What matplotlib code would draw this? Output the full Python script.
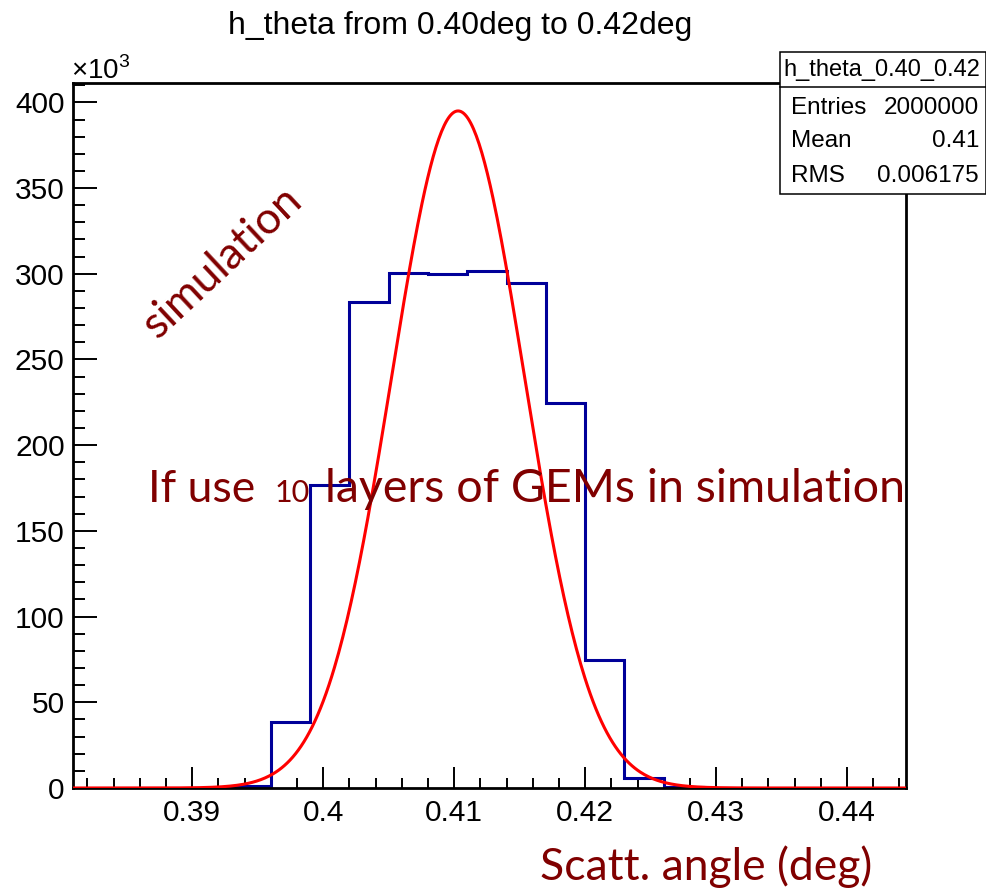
import numpy as np
import matplotlib
matplotlib.use('Agg')
import matplotlib.pyplot as plt
from matplotlib.patches import Rectangle
from matplotlib.lines import Line2D
from matplotlib.ticker import MultipleLocator

# histogram of scattering angle, counts in thousands, bin width 0.003 deg
bin_edges = [0.381, 0.384, 0.387, 0.390, 0.393, 0.396, 0.399, 0.402, 0.405,
             0.408, 0.411, 0.414, 0.417, 0.420, 0.423, 0.426, 0.429, 0.432,
             0.435, 0.438, 0.441, 0.444, 0.447]
counts_k = [0.0, 0.0, 0.0, 0.0, 1.3, 38.3, 176.8, 283.3, 300.6, 299.9, 301.4,
            294.8, 224.8, 74.7, 5.6, 0.3, 0.0, 0.0, 0.0, 0.0, 0.0, 0.0]

# gaussian fit
fit_const = 395.0
fit_mean = 0.4103
fit_sigma = 0.00508

stats_name = 'h_theta_0.40_0.42'
stats_rows = [('Entries', '2000000'), ('Mean', '0.41'), ('RMS', '0.006175')]

W, H = 987, 888
dark_red = '#800000'
deco = ['Lato', 'DejaVu Sans']

plt.rcParams['font.family'] = ['Liberation Sans', 'DejaVu Sans']
plt.rcParams['mathtext.fontset'] = 'custom'
plt.rcParams['mathtext.rm'] = 'Liberation Sans'

fig = plt.figure(figsize=(W / 100, H / 100), dpi=100)
fig.patch.set_facecolor('white')


def fx(x):
    return x / W


def fy(y):
    return 1 - y / H


ax = fig.add_axes([fx(73), fy(788), fx(906) - fx(73), fy(83) - fy(788)])

ax.stairs(counts_k, bin_edges, color='#000099', lw=2.2, baseline=0, zorder=2)

xs = np.linspace(0.3809, 0.4445, 600)
ax.plot(xs, fit_const * np.exp(-0.5 * ((xs - fit_mean) / fit_sigma) ** 2),
        color='#ff0000', lw=2.2, zorder=3)

ax.set_xlim(0.3809, 0.4445)
ax.set_ylim(0, 411.3)
ax.xaxis.set_major_locator(MultipleLocator(0.01))
ax.xaxis.set_minor_locator(MultipleLocator(0.002))
ax.yaxis.set_major_locator(MultipleLocator(50))
ax.yaxis.set_minor_locator(MultipleLocator(10))
ax.xaxis.set_major_formatter(plt.FuncFormatter(lambda v, p: ('%.2f' % v).rstrip('0')))
ax.tick_params(which='both', direction='in', top=False, right=False, width=1.4,
               labelsize=21.5)
ax.tick_params(axis='y', which='major', length=17, pad=6)
ax.tick_params(axis='y', which='minor', length=8.5)
ax.tick_params(axis='x', which='major', length=15, pad=8)
ax.tick_params(axis='x', which='minor', length=7.5)
for s in ax.spines.values():
    s.set_linewidth(2.0)

# title and axis annotations
fig.text(fx(460), fy(34), 'h_theta from 0.40deg to 0.42deg', ha='center',
         va='baseline', fontsize=23)
fig.text(fx(71), fy(79), r'$\times$10$^{3}$', ha='left', va='baseline', fontsize=20)

fig.text(fx(872), fy(880), 'Scatt. angle (deg)', ha='right', va='baseline',
         fontsize=32, color=dark_red, family=deco)

fig.text(fx(222), fy(262), 'simulation', ha='center', va='center', rotation=43,
         rotation_mode='anchor', fontsize=32, color=dark_red, family=deco, zorder=5)

fig.text(fx(148), fy(502), 'If use', ha='left', va='baseline', fontsize=32,
         color=dark_red, family=deco, zorder=5)
fig.text(fx(275), fy(502), '10', ha='left', va='baseline', fontsize=22,
         color=dark_red, family=deco, zorder=5)
fig.text(fx(905), fy(502), 'layers of GEMs in simulation', ha='right', va='baseline',
         fontsize=33.5, color=dark_red, family=deco, zorder=5)

# stats box
box = Rectangle((fx(780), fy(194)), fx(986) - fx(780), fy(52) - fy(194),
                transform=fig.transFigure, facecolor='white', edgecolor='black',
                lw=1.1, zorder=10)
fig.patches.append(box)
fig.lines.append(Line2D([fx(780), fx(986)], [fy(87), fy(87)], transform=fig.transFigure,
                        color='black', lw=1.1, zorder=11))
fig.text(fx(882), fy(70), stats_name, ha='center', va='center', fontsize=17, zorder=12)
row_y = [108, 141, 176]
for (lab, val), y in zip(stats_rows, row_y):
    fig.text(fx(791), fy(y), lab, ha='left', va='center', fontsize=17.5, zorder=12)
    fig.text(fx(979), fy(y), val, ha='right', va='center', fontsize=17.5, zorder=12)

fig.savefig('out.png', dpi=100)
